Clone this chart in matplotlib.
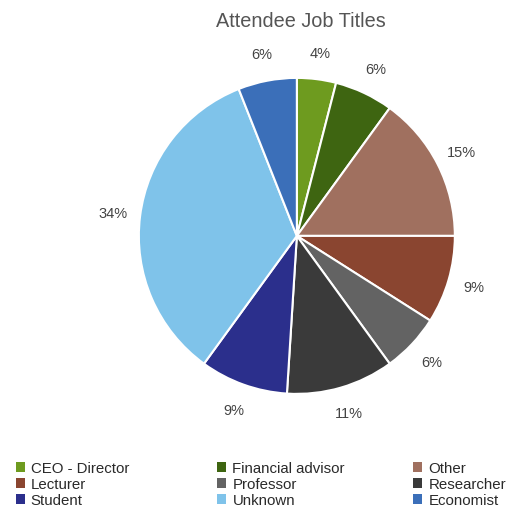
import matplotlib.pyplot as plt
from matplotlib.patches import Patch

plt.rcParams['font.family'] = ['Liberation Sans', 'DejaVu Sans']

titles = ['CEO - Director', 'Financial advisor', 'Other', 'Lecturer', 'Professor',
          'Researcher', 'Student', 'Unknown', 'Economist']
shares = [4, 6, 15, 9, 6, 11, 9, 34, 6]
colors = ['#6e9b1f', '#3e6511', '#a0705f', '#8a4530', '#636363',
          '#3a3a3a', '#2b2f8c', '#7fc3ea', '#3b6fb9']

fig = plt.figure(figsize=(5.24, 5.10), dpi=100)
ax = fig.add_axes([0.265, 0.2255, 0.603, 0.620])

wedges, texts = ax.pie(shares, colors=colors, startangle=90, counterclock=False,
                       labels=[f'{s}%' for s in shares], labeldistance=1.17,
                       wedgeprops=dict(edgecolor='white', linewidth=1.5),
                       textprops=dict(fontsize=10.5, color='#444444'))
for t in texts:
    t.set_horizontalalignment('center')
    t.set_verticalalignment('center')
ax.set_xlim(-1, 1)
ax.set_ylim(-1, 1)
ax.set_aspect('equal')

fig.text(0.575, 0.958, 'Attendee Job Titles', ha='center', va='center',
         fontsize=14.3, color='#555555')

# legend laid out as three columns, filled row by row
col_x = [0.03, 0.415, 0.789]
for c in range(3):
    idx = [c, c + 3, c + 6]
    handles = [Patch(facecolor=colors[i], edgecolor='none') for i in idx]
    fig.legend(handles, [titles[i] for i in idx], loc='upper left',
               bbox_to_anchor=(col_x[c], 0.094), frameon=False, fontsize=10.8,
               handlelength=0.6, handleheight=0.6, handletextpad=0.4,
               labelspacing=0.14, borderaxespad=0, borderpad=0,
               labelcolor='#2a2a2a')

fig.savefig('out.png', dpi=100)
